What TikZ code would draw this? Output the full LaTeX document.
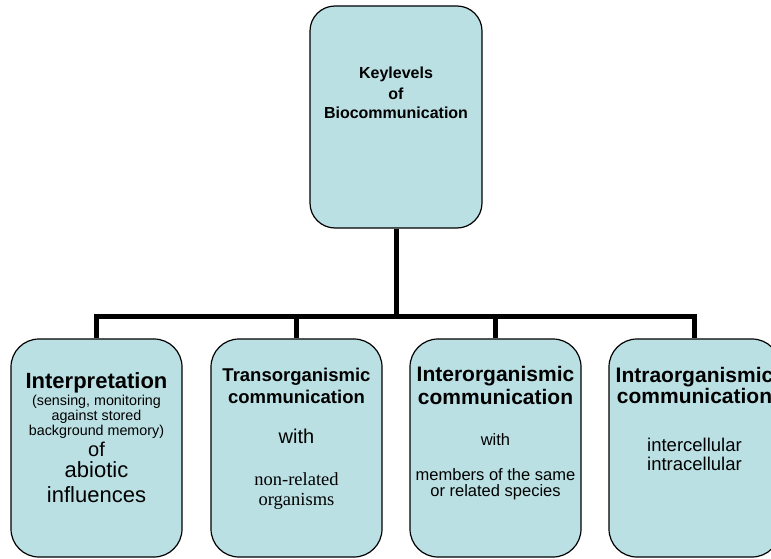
\documentclass[tikz,border=0pt]{standalone}
\usepackage{fontspec}
\setmainfont{Liberation Sans}
\newfontfamily\serifface{Liberation Serif}
\usetikzlibrary{calc}
\definecolor{boxblue}{RGB}{187,224,228}
\tikzset{
  levelbox/.style={draw, line width=1.2pt, fill=boxblue, rounded corners=28pt,
    minimum width=171pt, minimum height=218pt, inner sep=0pt},
  link/.style={line width=5pt},
  txtline/.style={inner sep=0pt, align=center}
}
\newcommand{\fsz}[1]{\fontsize{#1}{#1}\selectfont}

\begin{document}
\begin{tikzpicture}[x=1pt,y=-1pt]
      \useasboundingbox (0,0) rectangle (771,559);
      \clip (0,0) rectangle (771,559);

      % Boxes
      \node[levelbox, minimum width=172pt, minimum height=222pt, rounded corners=25pt] (key) at (396,117) {};
      \node[levelbox] (interp) at (96.5,448) {};
      \node[levelbox] (trans) at (296.5,448) {};
      \node[levelbox] (inter) at (495.5,448) {};
      \node[levelbox] (intra) at (694.5,448) {};

      % Connectors
      \coordinate (bar) at (0,316);
      \draw[link] (key.south) -- (key.south |- bar);
      \draw[link] (interp.north) -- (interp.north |- bar) -- (intra.north |- bar) -- (intra.north);
      \draw[link] (trans.north) -- (trans.north |- bar);
      \draw[link] (inter.north) -- (inter.north |- bar);

      % Text of the top box
      \foreach \dy/\fs/\txt [count=\i] in {69/16/{\bfseries Keylevels}, 88/16/{\bfseries of}, 107/16/{\bfseries Biocommunication}} {
        \node[txtline, font=\fsz{\fs}] (key-\i) at ($(key.north)+(0,\dy)$) {\txt};
      }

      % Text of the four level boxes
      \foreach \dy/\fs/\txt [count=\i] in {44/22/{\bfseries Interpretation}, 63/14.3/{(sensing, monitoring}, 78/14.3/{against stored},
          93/14.3/{background memory)}, 111/20/{of}, 131/22/{abiotic}, 156/22/{influences}} {
        \node[txtline, font=\fsz{\fs}] (interp-\i) at ($(interp.north)+(0,\dy)$) {\txt};
      }
      \foreach \dy/\fs/\txt [count=\i] in {38/18.5/{\bfseries Transorganismic}, 58/18.5/{\bfseries communication}, 98/20/{with},
          141/18.5/{\serifface non-related}, 163/18.5/{\serifface organisms}} {
        \node[txtline, font=\fsz{\fs}] (trans-\i) at ($(trans.north)+(0,\dy)$) {\txt};
      }
      \foreach \dy/\fs/\txt [count=\i] in {38/21/{\bfseries Interorganismic}, 59/21/{\bfseries communication}, 101/16.5/{with},
          136/16.5/{members of the same}, 154/16.5/{or related species}} {
        \node[txtline, font=\fsz{\fs}] (inter-\i) at ($(inter.north)+(0,\dy)$) {\txt};
      }
      \foreach \dy/\fs/\txt [count=\i] in {39/21/{\bfseries Intraorganismic}, 58/21/{\bfseries communication}, 106/18.5/{intercellular},
          125/18.5/{intracellular}} {
        \node[txtline, font=\fsz{\fs}] (intra-\i) at ($(intra.north)+(0,\dy)$) {\txt};
      }
\end{tikzpicture}
\end{document}
